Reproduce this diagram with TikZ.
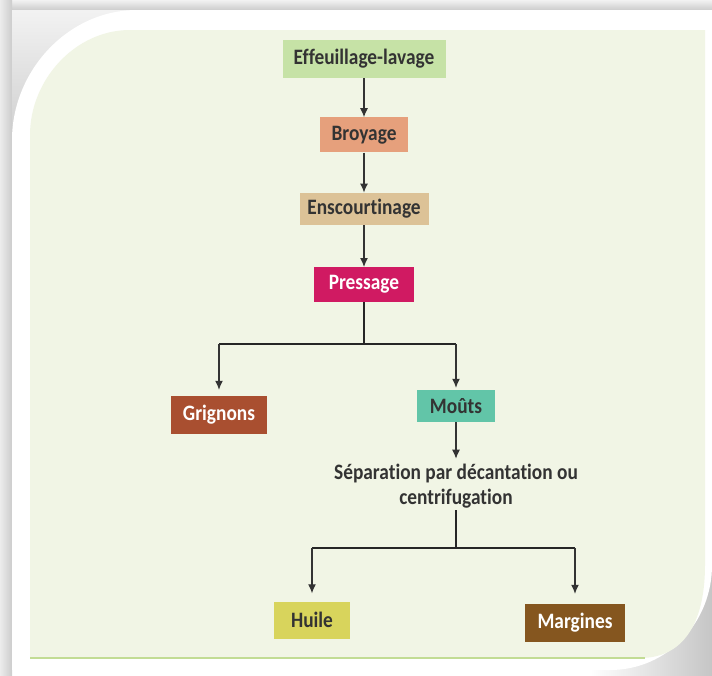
\documentclass[tikz,border=0pt]{standalone}
\usepackage{fontspec}
\setmainfont{Carlito}[FakeStretch=0.88, Ligatures=NoCommon]
\usepackage{xcolor}
\usetikzlibrary{arrows.meta, positioning}

\definecolor{panelbg}{HTML}{F1F5E5}
\definecolor{panelline}{HTML}{C2DC94}
\definecolor{cleaf}{HTML}{C6E2A6}
\definecolor{cgrind}{HTML}{E6A07C}
\definecolor{cscourt}{HTML}{DCC297}
\definecolor{cpress}{HTML}{D01A62}
\definecolor{cpomace}{HTML}{A94F30}
\definecolor{cmust}{HTML}{62C5A8}
\definecolor{coil}{HTML}{D8D45C}
\definecolor{cwater}{HTML}{85561F}

\begin{document}
\begin{tikzpicture}[x=1pt, y=-1pt,
    node distance=40pt,
    stage/.style={rectangle, minimum height=35pt, inner sep=0pt, align=center,
                  font=\fontsize{22}{24}\selectfont\bfseries, text=black!80},
    light/.style={text=white},
    line/.style={draw, -{Latex[length=9pt,width=8pt]}, line width=1.2pt, black!80},
    bar/.style={draw, line width=2pt, black!85}
]
    \useasboundingbox (0,0) rectangle (712,675);

    % frame and shadow
    \shade[top color=gray!10, bottom color=gray!40] (0,0) rectangle (712,10);
    \shade[left color=gray!15, right color=gray!40] (0,0) rectangle (12,675);
    \shade[top color=gray!10, bottom color=gray!40] (12,10) rectangle (150,150);
    \shade[left color=white, right color=gray!45] (590,570) rectangle (712,675);
    \fill[white] (12,670) -- (12,140) .. controls (12,71) and (68,10) .. (137,10) -- (712,10)
        -- (712,565) .. controls (712,623) and (667,670) .. (610,670) -- cycle;
    \fill[panelbg] (30,658) -- (30,135) .. controls (30,80) and (75,30) .. (130,30) -- (705,30)
        -- (705,565) .. controls (705,616) and (688,658) .. (640,658) -- cycle;
    \draw[panelline, line width=2pt] (30,658) -- (645,658);

    % steps
    \node[stage, fill=cleaf, minimum width=163pt, minimum height=38pt] (leaf) at (364,59) {Effeuillage-lavage};
    \node[stage, fill=cgrind, minimum width=88pt, below=39pt of leaf] (grind) {Broyage};
    \node[stage, fill=cscourt, minimum width=129pt, minimum height=32pt, below=of grind] (scourt) {Enscourtinage};
    \node[stage, fill=cpress, light, minimum width=100pt, below=42pt of scourt] (press) {Pressage};
    \node[stage, fill=cpomace, light, minimum width=96pt, minimum height=38pt] (pomace) at (219,415) {Grignons};
    \node[stage, fill=cmust, minimum width=78pt, minimum height=32pt] (must) at (456,406) {Moûts};
    \node[stage, minimum height=0pt, inner sep=2pt] (sep) at (456,486)
        {Séparation par décantation ou\\[1pt]centrifugation};
    \node[stage, fill=coil, minimum width=76pt, minimum height=37pt] (oil) at (312,620) {Huile};
    \node[stage, fill=cwater, light, minimum width=100pt, minimum height=38pt] (water) at (575,623) {Margines};

    % links
    \draw[line] (leaf) -- (grind);
    \draw[line] (grind) -- (scourt);
    \draw[line] (scourt) -- (press);

    \draw[bar] (press.south) -- ++(0,42) coordinate (fork1);
    \coordinate (fork1l) at (fork1 -| pomace);
    \coordinate (fork1r) at (fork1 -| must);
    \draw[bar] (fork1l) -- (fork1r);
    \draw[line, shorten >=6pt] (fork1l) -- (pomace);
    \draw[line, shorten >=2pt] (fork1r) -- (must);
    \draw[line, shorten >=3pt] (must) -- (sep);

    \draw[bar] (sep.south) -- ++(0,38) coordinate (fork2);
    \coordinate (fork2l) at (fork2 -| oil);
    \coordinate (fork2r) at (fork2 -| water);
    \draw[bar] (fork2l) -- (fork2r);
    \draw[line, shorten >=8pt] (fork2l) -- (oil);
    \draw[line, shorten >=10pt] (fork2r) -- (water);

\end{tikzpicture}
\end{document}
